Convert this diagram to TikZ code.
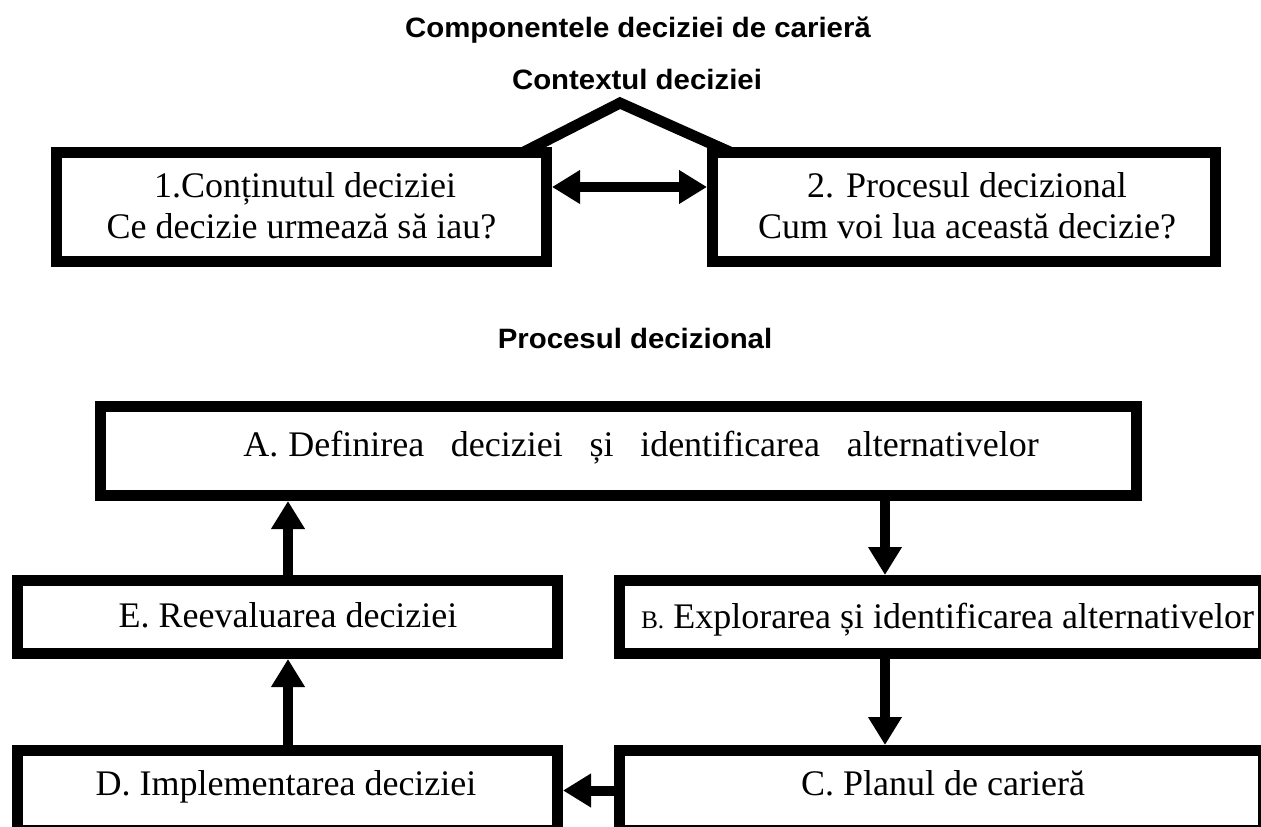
\documentclass[tikz,border=0pt]{standalone}
\usepackage{fontspec}
\setmainfont{Liberation Serif}
\newfontfamily\hfont[FakeStretch=1.05]{Liberation Sans}
\usetikzlibrary{arrows.meta}
\begin{document}
\begin{tikzpicture}[x=0.75pt,y=-0.75pt,
 box/.style={draw, line width=8.25pt, inner sep=0pt, outer sep=0pt, rectangle},
 txt/.style={font=\fontsize{27pt}{32pt}\selectfont, anchor=base, inner sep=0pt},
 headtxt/.style={font=\hfont\bfseries\fontsize{21pt}{24pt}\selectfont, anchor=base, inner sep=0pt},
 arr/.style={line width=7.5pt, -{Triangle[length=21pt,width=24pt]}, shorten >=4.125pt},
]
\useasboundingbox (0,0) rectangle (1261,827);
\clip (0,0) rectangle (1261,827);

% headings
\node[headtxt] (h1) at (638,38) {Componentele deciziei de carieră};
\node[headtxt] (h2) at (637,90) {Contextul deciziei};
\node[headtxt] (h3) at (635,349) {Procesul decizional};

% top boxes
\node[box, minimum width=367.5pt, minimum height=81.75pt] (b1) at (301.5,207) {};
\node[box, minimum width=377.25pt, minimum height=81.75pt] (b2) at (964,207) {};
\node[txt] (t1a) at (305,198) {1.Conținutul deciziei};
\node[txt] (t1b) at (301.5,239) {Ce decizie urmează să iau?};
\node[txt] (t2a) at (967,198) {2. Procesul decizional};
\node[txt] (t2b) at (967,239) {Cum voi lua această decizie?};

% roof
\coordinate (apex) at (620,103);
\draw[line width=8.25pt, line join=miter] (523,152.5) -- (apex) -- (731,152.5);

% double arrow
\draw[line width=7.5pt, {Triangle[length=21pt,width=24pt]}-{Triangle[length=21pt,width=24pt]}, shorten >=4.125pt, shorten <=4.125pt]
  ([yshift=15pt]b1.east) -- ([yshift=15pt]b2.west);

% process boxes
\node[box, minimum width=777pt, minimum height=66.75pt] (bA) at (618.5,451) {};
\node[box, minimum width=405pt, minimum height=54.75pt] (bE) at (287.5,617) {};
\node[box, minimum width=483pt, minimum height=54.75pt] (bB) at (941.5,617) {};
\node[box, minimum width=405pt, minimum height=60pt] (bD) at (287.5,790.5) {};
\node[box, minimum width=483pt, minimum height=60pt] (bC) at (941.5,790.5) {};

\node[txt] (tA) at (641,456) {A.\hspace{7.5pt}Definirea\hspace{20pt}deciziei\hspace{20pt}și\hspace{20pt}identificarea\hspace{20pt}alternativelor};
\node[txt] (tE) at (288,627) {E. Reevaluarea deciziei};
\node[txt] (tB) at (947.5,628) {{\fontsize{19pt}{20pt}\selectfont B.} Explorarea și identificarea alternativelor};
\node[txt] (tC) at (943,795) {C. Planul de carieră};
\node[txt] (tD) at (286,795) {D. Implementarea deciziei};

% connectors
\coordinate (xr) at (885,0);
\coordinate (xl) at (288,0);
\draw[arr] (bA.south -| xr) -- (bB.north -| xr);
\draw[arr] (bB.south -| xr) -- (bC.north -| xr);
\draw[arr] (bC.west) -- (bD.east);
\draw[arr] (bD.north -| xl) -- (bE.south -| xl);
\draw[arr] (bE.north -| xl) -- (bA.south -| xl);
\end{tikzpicture}
\end{document}
